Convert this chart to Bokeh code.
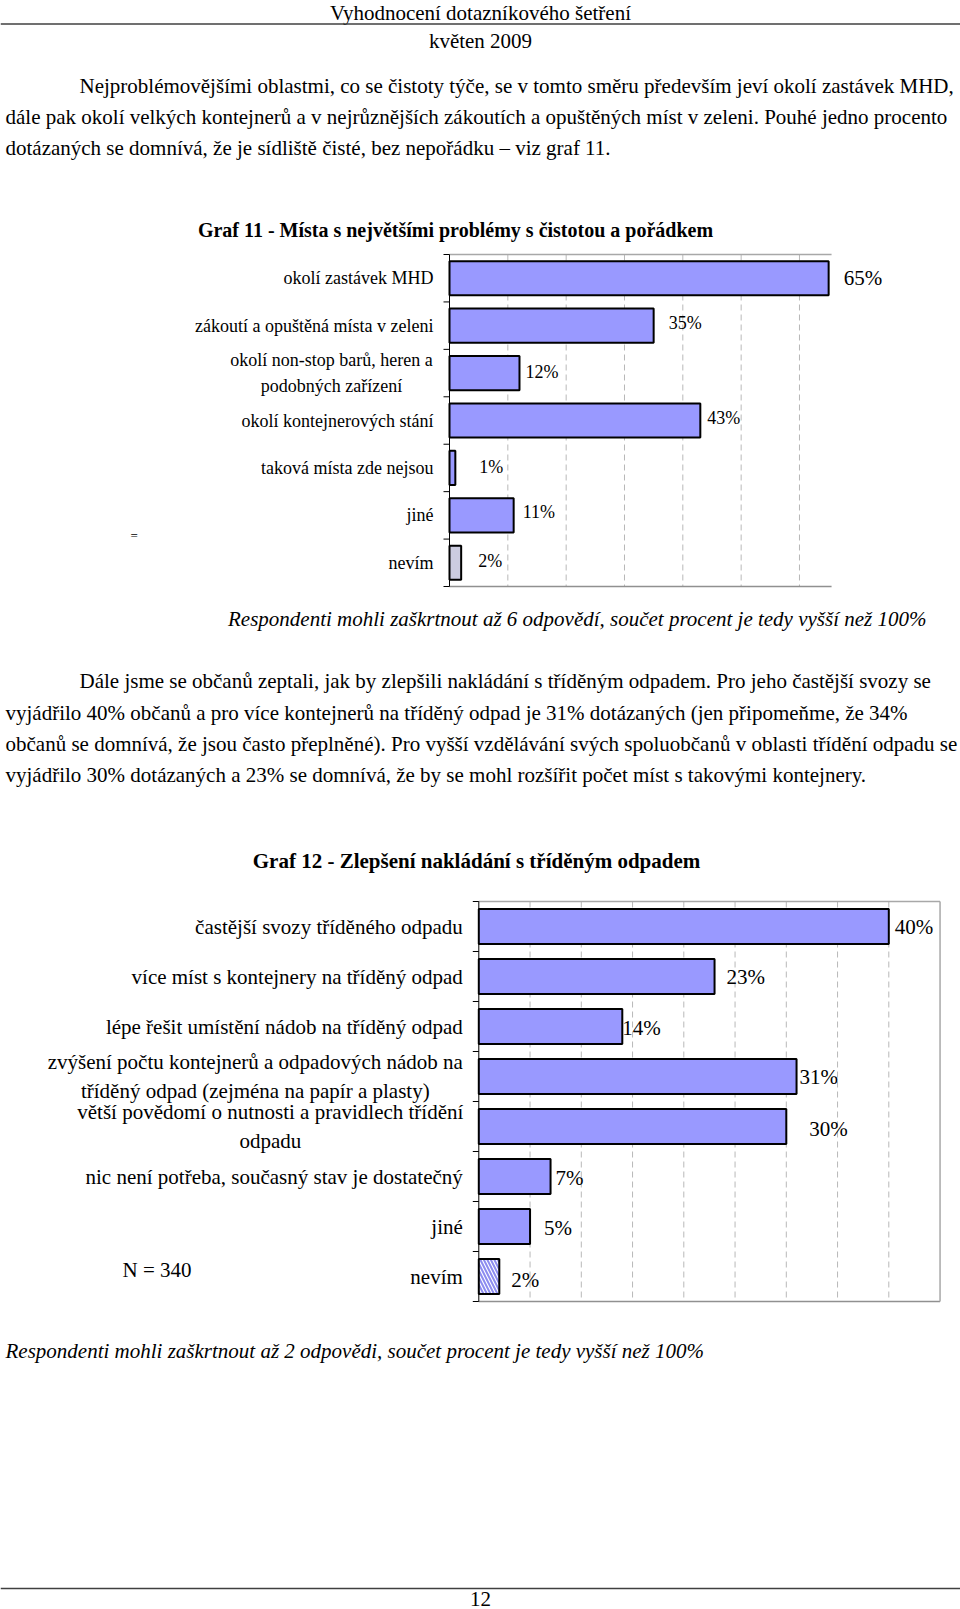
from bokeh.plotting import figure
from bokeh.layouts import column
from bokeh.models import Range1d, ColumnDataSource
from bokeh.core.properties import value
from bokeh.embed import file_html
from bokeh.resources import INLINE

FONT = "Liberation Serif"

# ---------------- data ----------------
g11_categories = [
    "okolí zastávek MHD",
    "zákoutí a opuštěná místa v zeleni",
    "okolí non-stop barů, heren a\npodobných zařízení",
    "okolí kontejnerových stání",
    "taková místa zde nejsou",
    "jiné",
    "nevím",
]
g11_values = [65, 35, 12, 43, 1, 11, 2]

g12_categories = [
    "častější svozy tříděného odpadu",
    "více míst s kontejnery na tříděný odpad",
    "lépe řešit umístění nádob na tříděný odpad",
    "zvýšení počtu kontejnerů a odpadových nádob na\ntříděný odpad (zejména na papír a plasty)",
    "větší povědomí o nutnosti a pravidlech třídění\nodpadu",
    "nic není potřeba, současný stav je dostatečný",
    "jiné",
    "nevím",
]
g12_values = [40, 23, 14, 31, 30, 7, 5, 2]

header_title = "Vyhodnocení dotazníkového šetření"
header_date = "květen 2009"
para1 = [
    "Nejproblémovějšími oblastmi, co se čistoty týče, se v tomto směru především jeví okolí zastávek MHD,",
    "dále pak okolí velkých kontejnerů a v nejrůznějších zákoutích a opuštěných míst v zeleni. Pouhé jedno procento",
    "dotázaných se domnívá, že je sídliště čisté, bez nepořádku – viz graf 11.",
]
g11_title = "Graf 11 - Místa s největšími problémy s čistotou a pořádkem"
note1 = "Respondenti mohli zaškrtnout až 6 odpovědí, součet procent je tedy vyšší než 100%"
para2 = [
    "Dále jsme se občanů zeptali, jak by zlepšili nakládání s tříděným odpadem. Pro jeho častější svozy se",
    "vyjádřilo 40% občanů a pro více kontejnerů na tříděný odpad je 31% dotázaných (jen připomeňme, že 34%",
    "občanů se domnívá, že jsou často přeplněné). Pro vyšší vzdělávání svých spoluobčanů v oblasti třídění odpadu se",
    "vyjádřilo 30% dotázaných a 23% se domnívá, že by se mohl rozšířit počet míst s takovými kontejnery.",
]
g12_title = "Graf 12 - Zlepšení nakládání s tříděným odpadem"
n_note = "N = 340"
note2 = "Respondenti mohli zaškrtnout až 2 odpovědi, součet procent je tedy vyšší než 100%"
page_no = "12"

# ---------------- helpers ----------------
W = 960
BODY = 21
BAR = "#9999FF"
GRID = "#B8B8B8"


def base_fig(h, xr, yr):
    p = figure(width=W, height=h, x_range=xr, y_range=yr,
               x_axis_type=None, y_axis_type=None, output_backend="svg",
               toolbar_location=None, min_border=0, frame_align=False)
    p.outline_line_color = None
    return p


def text_fig(y0, y1):
    return base_fig(y1 - y0, Range1d(0, W), Range1d(y1, y0))


def put(p, x, y, t, size=BODY, align="left", style="normal"):
    p.text(x=[x], y=[y], text=[t], text_font=value(FONT),
           text_font_size=value(f"{size}px"), text_align=value(align),
           text_baseline=value("middle"), text_font_style=value(style),
           text_color=value("black"))


def chart_fig(y0, y1, ax_x, top_y, s, row):
    """figure whose data x = percent, data y = row index (0 at the top border)"""
    h = y1 - y0
    top = top_y - y0
    return base_fig(h, Range1d(-ax_x / s, (W - ax_x) / s), Range1d((h - top) / row, -top / row))


def draw_chart(p, cats, vals, s, axmax, grid_step, bar_h, fills, lab_size, lab_off, lab_align,
               val_dx, val_dy, val_sizes, line_h, hatch=None, frame_right=True):
    n = len(vals)
    centers = [i + 0.5 for i in range(n)]
    bounds = list(range(n + 1))
    gx = list(range(grid_step, int(axmax) + 1, grid_step))
    gx = [g for g in gx if g < axmax]
    p.segment(x0=gx, x1=gx, y0=[0] * len(gx), y1=[n] * len(gx), line_color=GRID,
              line_width=1, line_dash="6 4")
    p.segment(x0=[0], x1=[axmax], y0=[0], y1=[0], line_color="#A8A8A8", line_width=1.5)
    p.segment(x0=[0], x1=[axmax], y0=[n], y1=[n], line_color="#909090", line_width=1.5)
    if frame_right:
        p.segment(x0=[axmax], x1=[axmax], y0=[0], y1=[n], line_color="#A8A8A8", line_width=1.5)
    # axis line + boundary ticks
    p.segment(x0=[0], x1=[0], y0=[0], y1=[n], line_color="black", line_width=1)
    p.segment(x0=[-6 / s] * len(bounds), x1=[0] * len(bounds), y0=bounds, y1=bounds,
              line_color="black", line_width=1)
    # bars
    src = dict(y=centers, r=vals, f=fills)
    kw = {}
    if hatch is not None:
        src["h"] = hatch
        kw = dict(hatch_pattern="h", hatch_color="#8C8CF0", hatch_weight=2, hatch_scale=7)
    p.hbar(y="y", left=0, right="r", height=bar_h, fill_color="f", line_color="black",
           line_width=2, source=ColumnDataSource(src), **kw)
    # category labels
    p.text(x=[0] * n, y=centers, text=cats, x_offset=lab_off, text_align=lab_align,
           text_font=value(FONT), text_font_size=value(f"{lab_size}px"),
           text_baseline=value("middle"), text_color=value("black"), text_line_height=line_h)
    # value labels
    vsrc = ColumnDataSource(dict(x=vals, y=centers, t=[f"{v}%" for v in vals],
                                 dx=val_dx, dy=val_dy, s=val_sizes))
    p.text(x="x", y="y", text="t", x_offset="dx", y_offset="dy", text_font_size="s",
           source=vsrc, text_font=value(FONT), text_baseline=value("middle"),
           text_align=value("left"), text_color=value("black"))


# ---------------- section A ----------------
pA = text_fig(0, 245)
put(pA, 480, 12, header_title, BODY, "center")
pA.line(x=[0, W], y=[23.5, 23.5], line_color="#404040", line_width=1.5)
put(pA, 480, 40, header_date, BODY, "center")
for (x, y), t in zip([(79, 85), (5, 116), (5, 147)], para1):
    put(pA, x, y, t)
put(pA, 455, 229, g11_title, 20, "center", "bold")

# ---------------- chart 1 ----------------
AX1, TOP1, S1, ROW1 = 449, 254, 5.833, 47.43
p1 = chart_fig(245, 600, AX1, TOP1, S1, ROW1)
n1 = len(g11_values)
draw_chart(p1, g11_categories, g11_values, S1, 65.5, 10, 0.72,
           [BAR] * (n1 - 1) + ["#CCCCE0"], 18,
           [-16, -16, -118, -16, -16, -16, -16],
           ["right", "right", "center", "right", "right", "right", "right"],
           [15, 15, 6, 7, 24, 9, 17], [0, -3, -1, -3, -1, -3, -2],
           ["21px"] + ["18px"] * (n1 - 1), 1.3, frame_right=False)
p1.text(x=[(130 - AX1) / S1], y=[(535 - TOP1) / ROW1], text=["="], text_font=value(FONT),
        text_font_size=value("13px"), text_baseline=value("middle"), text_align=value("left"))

# ---------------- section C ----------------
pC = text_fig(600, 885)
put(pC, 926, 618, note1, BODY, "right", "italic")
for (x, y), t in zip([(79, 680), (5, 712), (5, 743), (5, 774)], para2):
    put(pC, x, y, t)
put(pC, 476, 860, g12_title, BODY, "center", "bold")

# ---------------- chart 2 ----------------
AX2, TOP2, S2, ROW2 = 478.3, 901, 10.25, 50.0
p2 = chart_fig(885, 1320, AX2, TOP2, S2, ROW2)
n2 = len(g12_values)
draw_chart(p2, g12_categories, g12_values, S2, 45, 5, 0.7,
           [BAR] * (n2 - 1) + ["white"], BODY,
           [-16, -16, -16, -223.5, -208.5, -16, -16, -16],
           ["right", "right", "right", "center", "center", "right", "right", "right"],
           [6, 12, 0, 3, 23, 5, 14, 12], [0, 0, 1, 0, 2, 1, 1, 3],
           ["21px"] * n2, 1.24, hatch=[" "] * (n2 - 1) + ["\\"], frame_right=True)
p2.text(x=[(122 - AX2) / S2], y=[(1269 - TOP2) / ROW2], text=[n_note], text_font=value(FONT),
        text_font_size=value(f"{BODY}px"), text_baseline=value("middle"), text_align=value("left"))

# ---------------- section E ----------------
pE = text_fig(1320, 1609)
put(pE, 5, 1350, note2, BODY, "left", "italic")
pE.line(x=[0, W], y=[1588, 1588], line_color="#404040", line_width=1.5)
put(pE, 480, 1598, page_no, BODY, "center")

layout = column(pA, p1, pC, p2, pE, spacing=0)
open("out.html", "w").write(file_html(layout, INLINE))
